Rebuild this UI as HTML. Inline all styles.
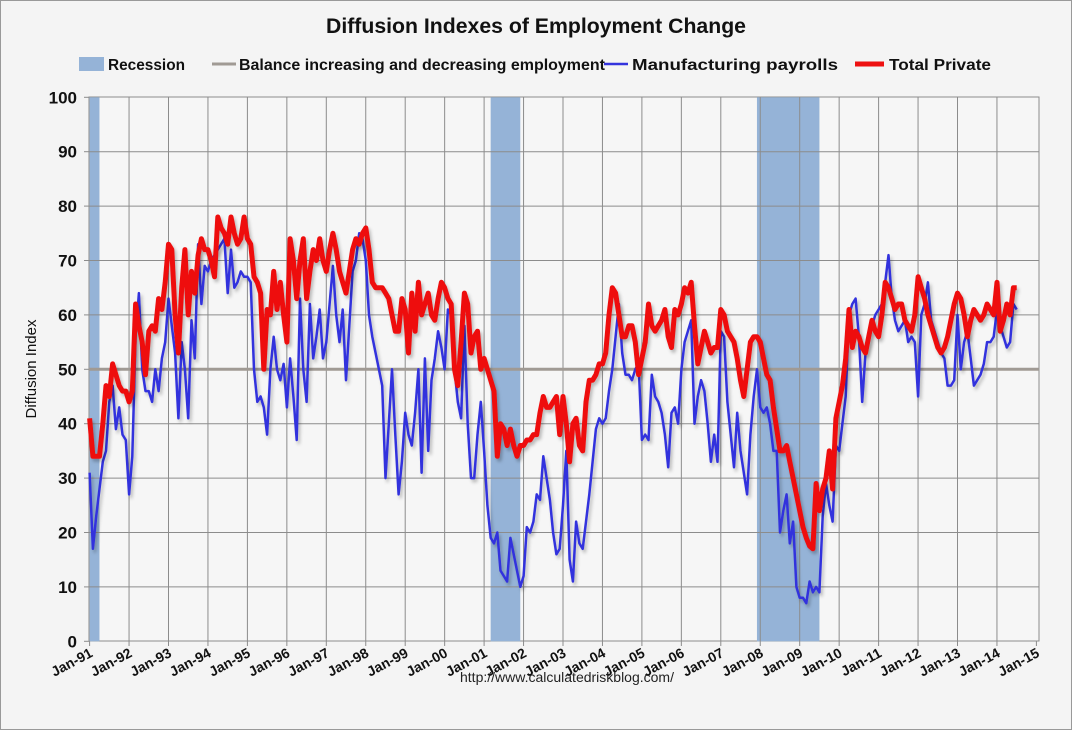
<!DOCTYPE html>
<html><head><meta charset="utf-8"><style>
html,body{margin:0;padding:0;background:#f4f4f4;}
svg{display:block;font-family:"Liberation Sans",sans-serif;}
</style></head><body>
<svg id="chart" width="1072" height="730" viewBox="0 0 1072 730">
<defs><filter id="sh" x="-5%" y="-5%" width="110%" height="110%"><feDropShadow dx="2" dy="3" stdDeviation="1.5" flood-color="#000" flood-opacity="0.25"/></filter></defs>
<rect x="0.5" y="0.5" width="1071" height="729" fill="#f4f4f4" stroke="#999"/>
<text x="326" y="33" textLength="420" lengthAdjust="spacingAndGlyphs" font-size="21" font-weight="bold" fill="#111">Diffusion Indexes of Employment Change</text>
<g id="legend" font-size="16" font-weight="bold" fill="#111">
<g><rect x="79" y="57" width="25" height="14" fill="#95b3d7"/><text x="108" y="70" textLength="77" lengthAdjust="spacingAndGlyphs">Recession</text></g>
<g><line x1="212" y1="64" x2="236" y2="64" stroke="#a09a94" stroke-width="3"/><text x="239" y="70" textLength="366" lengthAdjust="spacingAndGlyphs">Balance increasing and decreasing employment</text></g>
<g><line x1="604" y1="64" x2="628" y2="64" stroke="#3333dd" stroke-width="2.5"/><text x="632" y="70" textLength="206" lengthAdjust="spacingAndGlyphs">Manufacturing payrolls</text></g>
<g><line x1="855" y1="64" x2="884" y2="64" stroke="#ee1111" stroke-width="5"/><text x="889" y="70" textLength="102" lengthAdjust="spacingAndGlyphs">Total Private</text></g>
</g>
<rect x="89" y="97" width="950" height="544" fill="#f6f6f6" stroke="#8c8c8c"/>
<g id="rec"></g>
<g id="grid"></g>
<g id="ylab" font-size="17" font-weight="bold" fill="#111"></g>
<g id="xlab" font-size="14" font-weight="bold" fill="#111"></g>
<line x1="89" y1="369.3" x2="1039" y2="369.3" stroke="#a09a94" stroke-width="3"/>
<g id="series"></g>
<text transform="translate(36,369) rotate(-90)" text-anchor="middle" font-size="15" fill="#111">Diffusion Index</text>
<text x="567" y="682" text-anchor="middle" font-size="14" fill="#222">http://www.calculatedriskblog.com/</text>
</svg>
<script>
const startYear = 1991;
const yTicks = [0,10,20,30,40,50,60,70,80,90,100];
const xTickLabels = ["Jan-91","Jan-92","Jan-93","Jan-94","Jan-95","Jan-96","Jan-97","Jan-98","Jan-99","Jan-00","Jan-01","Jan-02","Jan-03","Jan-04","Jan-05","Jan-06","Jan-07","Jan-08","Jan-09","Jan-10","Jan-11","Jan-12","Jan-13","Jan-14","Jan-15"];
const recessionStart = [0,122,203];
const recessionEnd = [3,131,222];
const totalPrivate = [
41,34,34,34,40,47,45,51,49,47,46,46,
44,46,62,58,55,49,57,58,57,63,61,66,
73,72,60,53,65,72,60,68,64,71,74,72,
72,70,67,78,76,75,73,78,75,73,74,78,
74,73,67,66,64,50,61,60,68,61,66,60,
55,74,70,63,70,74,63,68,72,70,74,70,
68,72,75,72,68,66,64,68,72,74,73,75,
76,72,66,65,65,65,64,63,60,57,57,63,
61,53,64,57,66,60,62,64,60,59,63,66,
65,63,62,50,47,55,64,62,53,56,57,50,
52,50,48,46,34,40,39,36,39,36,34,36,
36,37,37,38,38,42,45,43,43,44,45,38,
45,40,33,40,41,36,35,44,48,48,49,51,
51,53,60,65,64,60,56,56,58,58,55,49,
52,55,62,58,57,58,59,61,56,54,61,60,
62,65,64,66,58,51,54,57,55,53,54,54,
61,60,57,56,55,52,48,45,50,55,56,56,
55,52,49,48,43,39,35,35,36,33,30,27,
24,21,19,17.5,17,29,24,28,30,35,28,41,
44,47,52,61,54,57,56,54,53,56,59,57,
56,60,66,65,63,61,62,62,59,58,57,60,
67,65,63,60,58,56,54,53,54,56,59,62,
64,63,60,56,59,61,60,59,60,62,61,60,
66,57,59,62,60,65,65];
const manufacturing = [
31,17,23,28,33,35,44,47,39,43,38,37,
27,34,56,64,50,46,46,44,50,46,52,55,
63,58,53,41,55,50,41,59,52,73,62,69,
68,70,71,72,73,74,64,72,65,66,68,67,
67,66,50,44,45,43,38,50,56,50,48,51,
43,52,45,37,63,50,44,62,52,56,61,52,
55,62,69,60,55,61,48,58,68,70,75,74,
70,60,56,53,50,47,30,40,50,38,27,33,
42,38,36,42,50,31,52,35,48,52,57,54,
50,61,60,50,44,41,58,40,30,30,38,44,
35,25,19,18,20,13,12,11,19,16,13,10,
12,21,20,22,27,26,34,30,26,20,16,17,
25,35,15,11,22,18,17,22,27,33,39,41,
40,41,46,50,56,62,53,49,49,48,50,51,
37,38,37,49,45,44,42,38,32,42,43,40,
50,55,57,59,40,45,48,46,40,33,38,33,
57,56,44,38,32,42,35,31,27,38,45,50,
43,42,43,40,35,35,20,24,27,18,22,10,
8,8,7,11,9,10,9,23,29,25,22,36,
35,40,45,60,62,63,56,44,53,55,58,60,
61,62,66,71,63,59,57,58,59,55,56,55,
45,60,62,66,59,57,55,53,52,47,47,48,
60,50,55,57,52,47,48,49,51,55,55,56,
61,58,56,54,55,62,61];

const NS = "http://www.w3.org/2000/svg";
const X0 = 89.6, PX_PER_YEAR = 39.45, Y0 = 641.3, PX_PER_UNIT = 5.44;
function xScale(m){ return X0 + m * PX_PER_YEAR / 12; }
function yScale(v){ return Y0 - v * PX_PER_UNIT; }
function mk(tag, attrs, parent){ const e = document.createElementNS(NS, tag); for (const k in attrs) e.setAttribute(k, attrs[k]); parent.appendChild(e); return e; }

const rec = document.getElementById('rec');
for (let i = 0; i < recessionStart.length; i++) {
  const x1 = Math.max(89, xScale(recessionStart[i])), x2 = xScale(recessionEnd[i]);
  const r = mk('rect', {x: x1, y: yScale(100), width: x2 - x1, height: yScale(0) - yScale(100), fill: '#95b3d7'}, rec);
  
  
}
const grid = document.getElementById('grid');
const ylab = document.getElementById('ylab');
yTicks.forEach(v => {
  const y = yScale(v);
  if (v > 0 && v < 100) {
    const l = mk('line', {x1: 89, y1: y, x2: 1039, y2: y, stroke: '#8c8c8c', 'stroke-width': 1}, grid);
    
    
  }
  const t = mk('text', {x: 77, y: y + 6, 'text-anchor': 'end'}, ylab);
  t.textContent = v;
  
  
  const tk = mk('line', {x1: 84, y1: y, x2: 89, y2: y, stroke: '#8c8c8c'}, grid);
  
  
});
const xlab = document.getElementById('xlab');
xTickLabels.forEach((lab, i) => {
  const x = xScale(i * 12);
  if (i > 0 && i < xTickLabels.length - 1) {
    const l = mk('line', {x1: x, y1: 97, x2: x, y2: 641, stroke: '#8c8c8c', 'stroke-width': 1}, grid);
    
    
  }
  const tk = mk('line', {x1: x, y1: 641, x2: x, y2: 646, stroke: '#8c8c8c'}, grid);
  
  
  const t = mk('text', {'text-anchor': 'end', transform: 'translate(' + (x + 4) + ',656) rotate(-28)'}, xlab);
  t.textContent = lab;
  
  
});
const series = document.getElementById('series');
function pts(arr){ return arr.map((v, i) => xScale(i).toFixed(1) + ',' + yScale(v).toFixed(1)).join(' '); }
const mfg = mk('polyline', {points: pts(manufacturing), fill: 'none', stroke: '#3333dd', 'stroke-width': 2.5, 'stroke-linejoin': 'round', filter: 'url(#sh)'}, series);


const tp = mk('polyline', {points: pts(totalPrivate), fill: 'none', stroke: '#ee1111', 'stroke-width': 5, 'stroke-linejoin': 'round', filter: 'url(#sh)'}, series);


</script>
</body></html>
